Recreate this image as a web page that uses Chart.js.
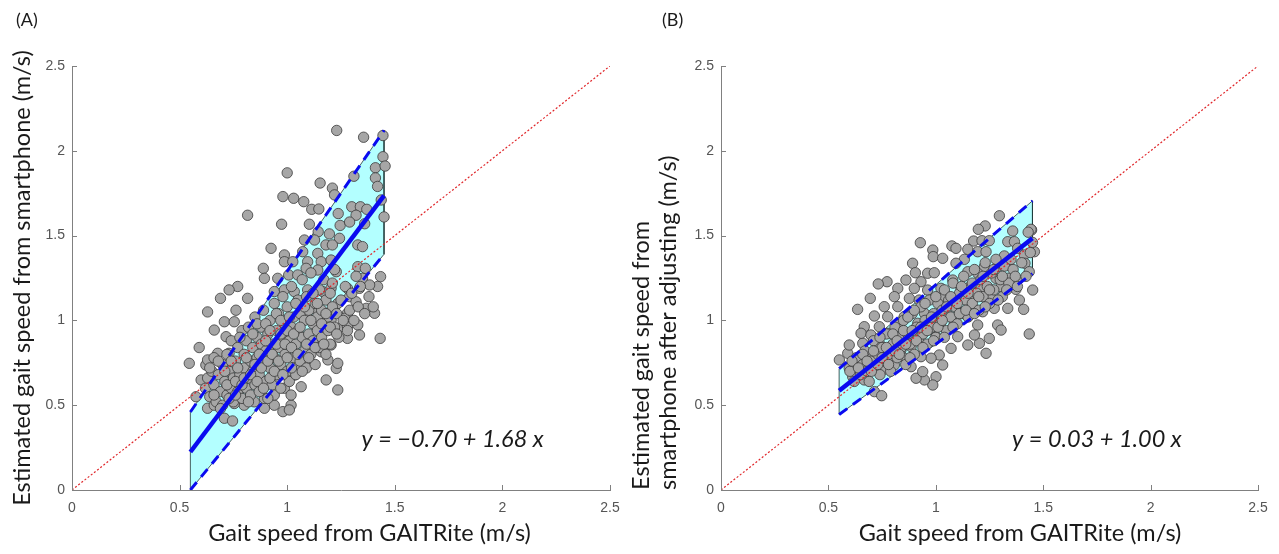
<!DOCTYPE html>
<html>
<head>
<meta charset="UTF-8">
<title>Gait speed: smartphone vs GAITRite</title>
<script src="https://cdn.jsdelivr.net/npm/chart.js"></script>
<style>
  body { margin: 0; background: #fff; }
  .panel { position: absolute; top: 0; }
  #wrapA { left: 0; }
  #wrapB { left: 615px; }
</style>
</head>
<body>
<div class="panel" id="wrapA"><canvas id="chartA" width="640" height="554"></canvas></div>
<div class="panel" id="wrapB"><canvas id="chartB" width="664" height="554"></canvas></div>
<script>
const axisTicks = [0, 0.5, 1, 1.5, 2, 2.5];
const identityLine = [[0, 0], [2.5, 2.5]];

// (A) raw smartphone estimate vs GAITRite, [x, y]
const pointsA = [
  [1.23,2.12],[1.355,2.08],[1.445,2.09],[1.445,1.965],[1.41,1.90],[1.455,1.91],[1.41,1.84],[1.42,1.79],
  [1.31,1.85],[1.153,1.81],[1.21,1.78],[1.22,1.74],[1.00,1.87],[0.98,1.73],[1.03,1.72],[1.077,1.70],
  [1.114,1.655],[1.147,1.657],[0.816,1.62],[0.974,1.567],[1.103,1.567],[1.237,1.63],[1.30,1.67],[1.34,1.67],
  [1.32,1.62],[1.37,1.655],[1.437,1.71],[1.45,1.61],[1.246,1.56],[1.29,1.58],[1.36,1.57],[1.144,1.523],
  [1.196,1.51],[1.08,1.474],[1.127,1.474],[1.243,1.484],[1.328,1.445],[1.35,1.435],[0.925,1.425],[1.18,1.445],
  [1.21,1.445],[1.072,1.405],[1.142,1.395],[0.987,1.386],[0.987,1.346],[1.026,1.346],[1.095,1.346],[1.158,1.346],
  [1.204,1.356],[1.088,1.307],[1.142,1.297],[1.228,1.287],[0.889,1.307],[0.894,1.248],[0.956,1.248],[1.007,1.268],
  [1.049,1.268],[1.328,1.317],[1.363,1.307],[1.35,1.248],[1.434,1.258],[1.42,1.20],[1.383,1.209],[1.336,1.189],
  [1.28,1.189],[1.29,1.14],[0.77,1.20],[0.73,1.18],[0.69,1.13],[0.816,1.13],[0.94,1.17],[0.987,1.18],
  [1.033,1.17],[1.095,1.18],[1.165,1.17],[1.204,1.19],
  [0.63,1.05],[0.762,1.06],[0.708,0.992],[0.754,0.992],[0.661,0.943],[0.716,0.904],[0.591,0.84],[0.545,0.747],
  [0.622,0.737],[0.63,0.767],[0.677,0.806],[0.73,0.806],[0.60,0.649],[0.576,0.55],[0.63,0.482],[0.661,0.50],
  [0.708,0.423],[0.746,0.407],[0.94,0.50],[0.98,0.462],[1.018,0.50],[1.01,0.472],[0.894,0.482],[1.235,0.59],
  [1.181,0.649],[1.065,0.609],[1.228,0.717],[1.235,0.747],[1.189,0.767],[1.088,0.757],[1.158,0.815],[1.204,0.855],
  [1.235,0.953],[1.28,0.963],[1.328,0.973],[1.336,0.914],[1.432,0.894],[1.406,1.042],[1.367,1.071],[1.28,1.042],
  [1.32,1.11],[1.235,1.10],[1.266,1.012],[1.204,1.002],
  [0.94,0.66],[0.987,0.60],[1.033,0.678],[1.065,0.717],[1.018,0.56],[0.94,0.56],[0.894,0.54],[0.847,0.52],
  [0.80,0.50],[0.754,0.51],[1.142,0.953],[1.181,1.03],[1.127,1.071],[1.095,1.012],[1.28,0.894],
  [0.62,0.60],[0.63,0.66],[0.64,0.55],[0.65,0.70],[0.66,0.62],[0.66,0.78],[0.67,0.52],[0.68,0.68],
  [0.69,0.58],[0.70,0.74],[0.70,0.50],[0.71,0.64],[0.72,0.80],[0.72,0.56],[0.73,0.70],[0.74,0.60],
  [0.74,0.88],[0.75,0.66],[0.75,0.52],[0.76,0.76],[0.77,0.58],[0.77,0.84],[0.78,0.68],[0.78,0.62],
  [0.79,0.94],[0.79,0.54],[0.80,0.72],[0.80,0.80],[0.81,0.60],[0.81,0.88],[0.82,0.66],[0.82,0.96],
  [0.83,0.76],[0.83,0.56],[0.84,0.84],[0.84,0.70],[0.85,0.62],[0.85,1.02],[0.86,0.78],[0.86,0.90],
  [0.87,0.68],[0.87,0.58],[0.88,0.86],[0.88,0.96],[0.89,0.74],[0.89,1.06],[0.90,0.64],[0.90,0.82],
  [0.91,0.92],[0.91,0.54],[0.92,0.72],[0.92,1.00],[0.93,0.86],[0.93,0.62],[0.94,0.78],[0.94,1.10],
  [0.95,0.94],[0.95,0.68],[0.96,0.84],[0.96,1.04],[0.97,0.74],[0.97,0.60],[0.98,0.90],[0.98,1.14],
  [0.99,0.80],[0.99,0.98],[1.00,0.70],[1.00,1.08],[1.01,0.88],[1.01,0.64],[1.02,0.96],[1.02,1.20],
  [1.03,0.78],[1.03,1.02],[1.04,0.86],[1.04,0.68],[1.05,1.12],[1.05,0.94],[1.06,0.76],[1.06,1.04],
  [1.07,0.90],[1.07,1.24],[1.08,0.82],[1.08,1.00],[1.09,0.72],[1.09,1.14],[1.10,0.92],[1.10,1.06],
  [1.11,0.80],[1.11,1.28],[1.12,0.98],[1.12,0.88],[1.13,1.10],[1.13,0.74],[1.14,1.02],[1.14,0.94],
  [1.15,1.18],[1.15,0.84],[1.16,1.06],[1.16,0.90],[1.17,0.98],[1.17,1.24],[1.18,0.80],[1.18,1.12],
  [1.19,0.94],[1.19,1.02],[1.20,1.16],[1.20,0.86],[1.21,1.08],[1.22,0.96],[1.22,1.30],[1.23,1.04],
  [1.24,0.90],[1.25,1.12],[1.26,1.00],[1.27,1.20],[1.28,0.94],[1.29,1.06],[1.30,1.16],[1.31,1.00],
  [1.32,1.26],[1.33,1.08],[1.34,1.20],[1.36,1.04],[1.38,1.14],[1.40,1.08],
  [0.64,0.72],[0.66,0.56],[0.68,0.76],[0.69,0.48],[0.71,0.70],[0.72,0.62],[0.73,0.54],[0.74,0.76],
  [0.76,0.64],[0.76,0.56],[0.77,0.72],[0.78,0.90],[0.79,0.62],[0.80,0.66],[0.81,0.78],[0.82,0.52],
  [0.83,0.68],[0.84,0.92],[0.85,0.74],[0.86,0.64],[0.86,0.98],[0.87,0.80],[0.88,0.72],[0.89,0.60],
  [0.90,0.88],[0.90,0.98],[0.91,0.76],[0.92,0.66],[0.92,0.94],[0.93,0.80],[0.94,0.70],[0.95,0.86],
  [0.95,1.04],[0.96,0.76],[0.97,0.92],[0.97,1.00],[0.98,0.68],[0.99,0.86],[1.00,0.94],[1.00,0.78],
  [1.01,1.02],[1.02,0.72],[1.02,0.84],[1.03,0.92],[1.04,1.10],[1.05,0.80],[1.06,0.96],[1.07,0.70],
  [1.08,1.08],[1.09,0.86],[1.10,0.78],[1.11,1.00],[1.12,1.16],[1.13,0.84],[1.14,1.10],[1.16,0.98],
  [1.17,0.86],[1.18,1.04],[1.20,0.96],[1.21,1.22],[1.23,0.92]
];
const fitA = [[0.55, 0.224], [1.45, 1.736]];
const upperA = [[0.55, 0.46], [1.45, 2.12]];
const lowerA = [[0.55, 0.0], [1.45, 1.39]];
const equationA = 'y = \u22120.70 + 1.68 x';

// (B) smartphone estimate after adjusting vs GAITRite
const pointsB = [
  [1.296,1.617],[1.23,1.557],[1.198,1.537],[1.446,1.533],[1.358,1.527],[1.176,1.468],[1.215,1.47],[1.249,1.47],
  [1.335,1.464],[1.366,1.464],[0.928,1.458],[1.075,1.439],[1.094,1.425],[1.149,1.419],[0.986,1.415],[1.195,1.405],
  [1.234,1.405],[1.381,1.425],[1.459,1.405],[0.988,1.376],[1.032,1.366],[1.133,1.36],[1.319,1.38],[1.412,1.386],
  [1.415,1.337],[1.335,1.327],[0.892,1.337],[1.094,1.337],[1.226,1.317],[1.288,1.317],[0.905,1.281],[0.962,1.278],
  [0.993,1.281],[1.149,1.287],[1.195,1.278],[1.435,1.287],[0.861,1.238],[0.931,1.228],[1.079,1.238],[1.28,1.248],
  [1.335,1.248],[1.381,1.238],[0.773,1.228],[0.732,1.215],[0.823,1.189],[0.90,1.189],[0.962,1.179],[1.024,1.189],
  [1.117,1.189],[1.21,1.189],[1.304,1.199],[1.451,1.179],[1.373,1.183],[0.695,1.13],[0.636,1.065],[0.807,1.14],
  [0.877,1.13],[0.76,1.081],[0.823,1.081],[0.923,1.12],[0.993,1.13],[1.04,1.14],[1.164,1.12],[1.257,1.13],
  [1.389,1.12],[1.335,1.071],[1.409,1.065],[1.272,1.071],[1.218,1.051],[0.714,1.026],[0.776,1.022],[0.853,1.022],
  [0.947,1.042],[1.055,1.032],[1.117,1.042],[0.667,0.963],[0.737,0.963],[0.823,0.973],[0.916,0.983],[1.009,0.983],
  [1.086,0.983],[1.195,0.973],[1.288,0.973],[1.435,0.92],
  [1.234,0.806],[1.149,0.855],[1.203,0.865],[1.102,0.904],[1.18,0.914],[1.071,0.835],[1.016,0.796],[1.032,0.737],
  [1.001,0.668],[0.986,0.619],[0.947,0.649],[0.908,0.659],[0.939,0.698],[0.978,0.777],[0.931,0.786],[0.885,0.845],
  [0.838,0.826],[0.807,0.737],[0.753,0.708],[0.714,0.58],[0.748,0.556],[0.667,0.649],[0.613,0.668],[0.597,0.718],
  [0.62,0.747],[0.551,0.767],[0.59,0.806],[0.597,0.855],[0.66,0.865],[0.698,0.796],[0.737,0.865],[0.784,0.786],
  [0.853,0.777],[0.885,0.727],[0.776,0.924],[0.853,0.914],[0.931,0.924],[1.001,0.904],[0.652,0.924],[0.698,0.914],
  [1.304,0.943],[1.249,0.894],[1.443,1.537],
  [0.60,0.70],[0.62,0.64],[0.63,0.78],[0.65,0.68],[0.66,0.74],[0.67,0.82],[0.68,0.70],[0.69,0.64],
  [0.70,0.76],[0.71,0.88],[0.72,0.72],[0.73,0.80],[0.74,0.68],[0.75,0.84],[0.76,0.76],[0.77,0.92],
  [0.78,0.80],[0.79,0.70],[0.80,0.86],[0.81,0.96],[0.82,0.78],[0.83,0.90],[0.84,0.84],[0.85,1.00],
  [0.86,0.74],[0.87,0.92],[0.88,0.86],[0.89,1.04],[0.90,0.80],[0.91,0.96],[0.92,0.88],[0.93,1.08],
  [0.94,0.92],[0.95,1.00],[0.96,0.86],[0.97,1.12],[0.98,0.96],[0.99,1.04],[1.00,0.90],[1.01,1.10],
  [1.02,0.98],[1.03,1.06],[1.04,1.18],[1.05,0.94],[1.06,1.12],[1.07,1.02],[1.08,1.22],[1.09,1.08],
  [1.10,0.98],[1.11,1.16],[1.12,1.04],[1.13,1.26],[1.14,1.12],[1.15,1.02],[1.16,1.20],[1.17,1.10],
  [1.18,1.30],[1.19,1.16],[1.20,1.06],[1.21,1.24],[1.22,1.14],[1.23,1.34],[1.24,1.20],[1.25,1.10],
  [1.26,1.28],[1.27,1.18],[1.28,1.36],[1.30,1.24],[1.31,1.14],[1.32,1.32],[1.34,1.22],[1.36,1.30],
  [1.38,1.20],[1.40,1.34],[1.42,1.26],[1.44,1.40],[1.45,1.46],[1.43,1.52],
  [0.61,0.76],[0.64,0.72],[0.66,0.80],[0.68,0.76],[0.70,0.70],[0.71,0.82],[0.73,0.74],[0.74,0.90],
  [0.75,0.78],[0.77,0.84],[0.78,0.74],[0.80,0.92],[0.81,0.82],[0.82,0.88],[0.83,0.80],[0.85,0.94],
  [0.86,0.86],[0.87,1.02],[0.88,0.78],[0.89,0.94],[0.90,1.06],[0.91,0.88],[0.93,0.96],[0.94,0.84],
  [0.95,1.10],[0.96,0.94],[0.98,1.02],[0.99,0.88],[1.00,1.14],[1.01,0.96],[1.03,1.00],[1.04,0.90],
  [1.05,1.08],[1.07,1.14],[1.08,0.96],[1.10,1.10],[1.11,1.04],[1.12,1.20],[1.14,1.06],[1.15,1.16],
  [1.17,1.22],[1.18,1.04],[1.20,1.14],[1.22,1.26],[1.23,1.08],[1.25,1.18],[1.27,1.30],[1.29,1.12],
  [1.31,1.26],[1.33,1.18],[1.35,1.36],[1.37,1.26]
];
const fitB = [[0.55, 0.585], [1.45, 1.485]];
const upperB = [[0.55, 0.715], [1.45, 1.705]];
const lowerB = [[0.55, 0.445], [1.45, 1.275]];
const equationB = 'y = 0.03 + 1.00 x';

const xTitle = 'Gait speed from GAITRite (m/s)';
const axisColor = '#808080';
const tickColor = '#555555';
const textColor = '#1a1a1a';
const blue = '#0a0af0';

const toXY = arr => arr.map(p => ({ x: p[0], y: p[1] }));

// inward tick marks, panel letter, fit equation and the x title (which sits right of centre)
const panelText = {
  id: 'panelText',
  afterDraw(chart, args, opts) {
    const { ctx, chartArea, scales: { x, y } } = chart;
    ctx.save();
    ctx.strokeStyle = axisColor;
    ctx.lineWidth = 1;
    ctx.beginPath();
    axisTicks.forEach(v => {
      const px = Math.round(x.getPixelForValue(v)) + 0.5;
      ctx.moveTo(px, chartArea.bottom);
      ctx.lineTo(px, chartArea.bottom - 5);
      const py = Math.round(y.getPixelForValue(v)) + 0.5;
      ctx.moveTo(chartArea.left, py);
      ctx.lineTo(chartArea.left + 5, py);
    });
    ctx.stroke();

    ctx.fillStyle = textColor;
    ctx.textBaseline = 'middle';
    ctx.textAlign = 'left';
    ctx.font = '18px Lato';
    ctx.fillText(opts.label, opts.labelX, 20);

    ctx.font = 'italic 23.5px Lato';
    ctx.fillText(opts.equation, x.getPixelForValue(opts.eqAt[0]), y.getPixelForValue(opts.eqAt[1]));

    ctx.font = '23.5px Lato';
    ctx.textAlign = 'center';
    ctx.fillText(xTitle, (chartArea.left + chartArea.right) / 2 + opts.xTitleShift, 533);
    ctx.restore();
  }
};

function makeChart(id, cfg) {
  const band = [cfg.lower[0], cfg.upper[0], cfg.upper[1], cfg.lower[1], cfg.lower[0]];
  return new Chart(document.getElementById(id), {
    type: 'scatter',
    data: {
      datasets: [
        { type: 'line', data: toXY(band), fill: 'shape', backgroundColor: '#b3ffff',
          borderColor: '#203838', borderWidth: 0.8, pointRadius: 0, order: 5 },
        { type: 'scatter', data: toXY(cfg.points), pointRadius: 5.2, pointBackgroundColor: '#a6a6a6',
          pointBorderColor: '#3a3a3a', pointBorderWidth: 0.8, order: 4 },
        { type: 'line', data: toXY(identityLine), borderColor: '#e0262a', borderWidth: 1.2,
          borderDash: [2, 2], pointRadius: 0, order: 3 },
        { type: 'line', data: toXY(cfg.upper), borderColor: blue, borderWidth: 3,
          borderDash: [10, 7], pointRadius: 0, order: 2 },
        { type: 'line', data: toXY(cfg.lower), borderColor: blue, borderWidth: 3,
          borderDash: [10, 7], pointRadius: 0, order: 2 },
        { type: 'line', data: toXY(cfg.fit), borderColor: blue, borderWidth: 4.5,
          pointRadius: 0, order: 1 }
      ]
    },
    options: {
      responsive: false,
      animation: false,
      events: [],
      layout: { padding: { left: 0, right: cfg.padRight, top: 66, bottom: 0 } },
      plugins: {
        legend: { display: false },
        tooltip: { enabled: false },
        panelText: { label: cfg.label, labelX: cfg.labelX, equation: cfg.equation,
                     eqAt: cfg.eqAt, xTitleShift: cfg.xTitleShift }
      },
      scales: {
        x: {
          type: 'linear', min: 0, max: 2.5,
          afterFit: s => { s.height = 64; },
          grid: { display: false, drawTicks: false },
          border: { color: axisColor },
          ticks: { stepSize: 0.5, padding: 10, color: tickColor,
                   font: { family: 'Liberation Sans', size: 14 }, callback: v => String(v) }
        },
        y: {
          type: 'linear', min: 0, max: 2.5,
          afterFit: s => { s.width = cfg.yAxisWidth; },
          grid: { display: false, drawTicks: false },
          border: { color: axisColor },
          ticks: { stepSize: 0.5, padding: 7, color: tickColor,
                   font: { family: 'Liberation Sans', size: 14 }, callback: v => String(v) },
          title: { display: true, text: cfg.yTitle, align: cfg.yTitleAlign, color: textColor,
                   font: { family: 'Lato', size: 23.5, lineHeight: 1.15 },
                   padding: { top: cfg.yTitlePad, bottom: 0 } }
        }
      }
    },
    plugins: [panelText]
  });
}

makeChart('chartA', {
  points: pointsA, fit: fitA, upper: upperA, lower: lowerA, equation: equationA,
  label: '(A)', labelX: 16, eqAt: [1.345, 0.30], xTitleShift: 28.5,
  padRight: 30, yAxisWidth: 72, yTitlePad: 8.5, yTitleAlign: 'center',
  yTitle: 'Estimated gait speed from smartphone (m/s)'
});

makeChart('chartB', {
  points: pointsB, fit: fitB, upper: upperB, lower: lowerB, equation: equationB,
  label: '(B)', labelX: 47, eqAt: [1.355, 0.30], xTitleShift: 30.5,
  padRight: 21, yAxisWidth: 106, yTitlePad: 12.5, yTitleAlign: 'start',
  yTitle: ['Estimated gait speed from', 'smartphone after adjusting (m/s)']
});
</script>
</body>
</html>
